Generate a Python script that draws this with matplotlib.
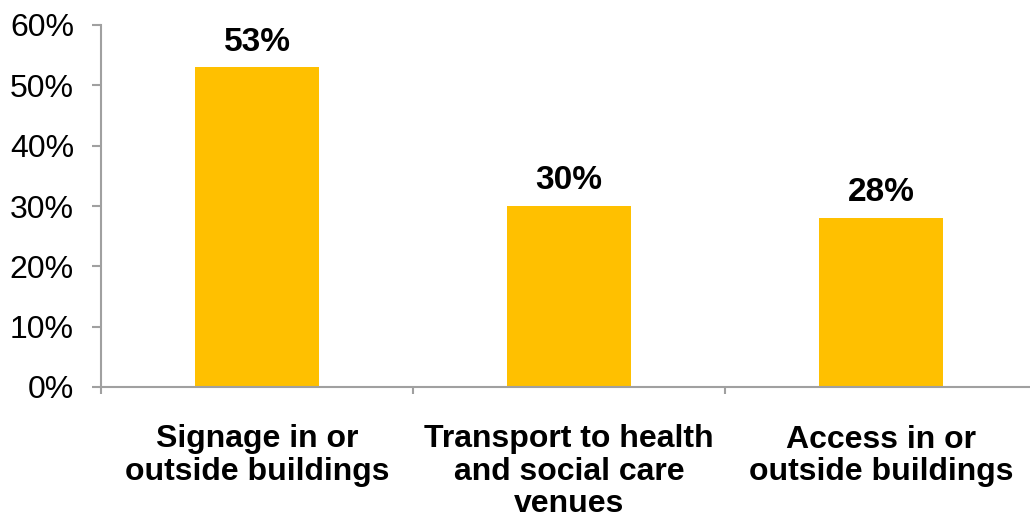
import numpy as np
import matplotlib.pyplot as plt
from matplotlib.ticker import PercentFormatter

# share of respondents naming each barrier
categories = ["Signage in or\noutside buildings",
              "Transport to health\nand social care\nvenues",
              "Access in or\noutside buildings"]
values = [53, 30, 28]

plt.rcParams['font.family'] = ['Liberation Sans', 'DejaVu Sans']

fig = plt.figure(figsize=(10.30, 5.24), dpi=100)
ax = fig.add_axes([101 / 1030, 1 - 387 / 524, 936 / 1030, 362 / 524])

x = np.arange(len(categories))
ax.bar(x, values, width=0.395, color='#FFC000', zorder=2)

for xi, v in zip(x, values):
    ax.annotate(f"{v}%", (xi, v), xytext=(0, 7), textcoords='offset points',
                ha='center', va='bottom', fontsize=24, fontweight='bold')

ax.set_xlim(-0.5, len(categories) - 0.5)
ax.set_ylim(0, 60)
ax.set_yticks(np.arange(0, 61, 10))
ax.yaxis.set_major_formatter(PercentFormatter(decimals=0))

grey = '#A0A0A0'
for side in ['top', 'right']:
    ax.spines[side].set_visible(False)
for side in ['left', 'bottom']:
    ax.spines[side].set_color(grey)
    ax.spines[side].set_linewidth(1.5)

# category boundaries carry the x tick marks; labels sit at the centres
ax.set_xticks(np.arange(-0.5, len(categories), 1.0))
ax.set_xticklabels([])
ax.set_xticks(x, minor=True)
ax.set_xticklabels(categories, minor=True, fontsize=23, fontweight='bold',
                   linespacing=1.1, va='top')
ax.tick_params(axis='x', which='major', length=5, width=1.5, color=grey)
ax.tick_params(axis='x', which='minor', length=0, pad=27)
ax.tick_params(axis='y', length=6.5, width=1.5, color=grey, labelsize=23, pad=13)

fig.savefig('out.png', dpi=100)
